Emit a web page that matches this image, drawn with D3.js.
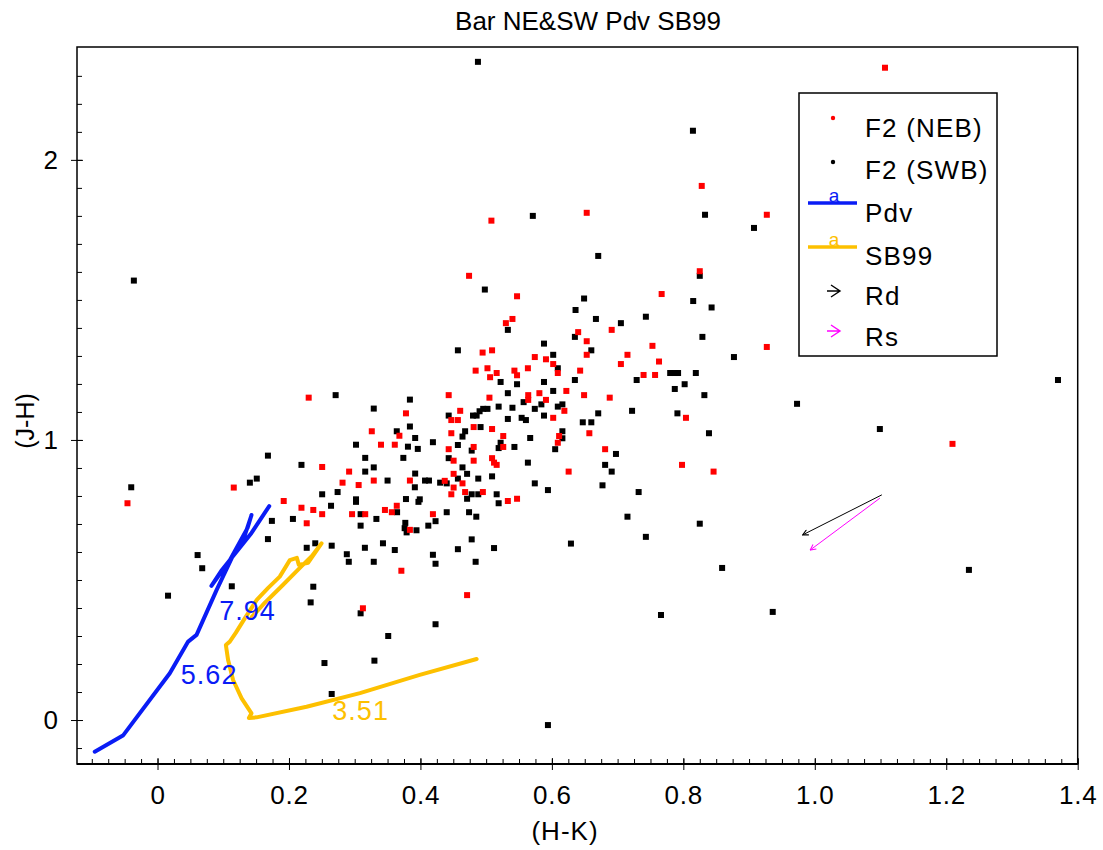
<!DOCTYPE html>
<html>
<head>
<meta charset="utf-8">
<script src="https://cdn.jsdelivr.net/npm/d3@7"></script>
<style>
  body { margin: 0; background: #fff; }
  text { font-family: "Liberation Sans", Arial, Helvetica, sans-serif; }
</style>
</head>
<body>
<div id="chart"></div>
<script>
var width = 1103, height = 850;

// (H-K, J-H) pairs
var f2SWB = [
  [0.6705,1.657],[0.498,1.537],[0.649,1.505],[0.636,1.464],[0.667,1.432],[0.705,1.417],[0.743,1.440],[0.815,1.496],[0.843,1.473],[0.825,1.586],
  [0.533,1.393],[0.635,1.368],[0.829,1.368],[0.877,1.296],[0.457,1.320],[0.588,1.344],[0.602,1.304],[0.660,1.320],[0.609,1.256],[0.522,1.207],
  [0.547,1.199],[0.588,1.207],[0.635,1.214],[0.729,1.214],[0.780,1.239],[0.787,1.239],[0.792,1.239],[0.819,1.239],[0.802,1.199],[0.787,1.182],
  [0.832,1.160],[0.533,1.167],[0.602,1.175],[0.557,1.135],[0.584,1.127],[0.574,1.111],[0.609,1.119],[0.616,1.127],[0.519,1.119],[0.540,1.115],
  [0.502,1.111],[0.4955,1.111],[0.490,1.1025],[0.4855,1.087],[0.480,1.087],[0.443,1.087],[0.533,1.075],[0.554,1.079],[0.5605,1.071],[0.588,1.087],
  [0.6705,1.095],[0.722,1.104],[0.647,1.063],[0.660,1.063],[0.791,1.095],[0.839,1.024],[0.4915,1.046],[0.468,1.031],[0.464,1.012],[0.457,0.982],
  [0.616,1.031],[0.616,1.006],[0.567,1.007],[0.522,0.990],[0.519,0.971],[0.543,0.975],[0.478,0.962],[0.605,0.967],[0.443,0.935],[0.6975,0.950],
  [0.5635,0.919],[0.681,0.911],[0.691,0.887],[0.464,0.902],[0.471,0.879],[0.457,0.862],[0.440,0.845],[0.488,0.862],[0.509,0.870],[0.574,0.845],
  [0.594,0.821],[0.677,0.838],[0.732,0.814],[0.478,0.806],[0.488,0.806],[0.471,0.790],[0.516,0.806],[0.519,0.774],[0.440,0.742],[0.474,0.742],
  [0.485,0.726],[0.715,0.726],[0.825,0.701],[0.478,0.645],[0.743,0.654],[0.512,0.614],[0.457,0.610],[0.629,0.630],
  [0.271,1.160],[0.384,1.144],[0.329,1.112],[0.384,1.048],[0.364,1.031],[0.392,1.007],[0.381,0.976],[0.396,0.968],[0.419,0.992],[0.302,0.983],
  [0.374,0.936],[0.316,0.936],[0.329,0.902],[0.316,0.887],[0.392,0.880],[0.168,0.944],[0.219,0.911],[0.151,0.862],[0.1405,0.8475],[0.407,0.855],
  [0.413,0.855],[0.430,0.8475],[0.350,0.855],[0.3915,0.831],[0.274,0.814],[0.2505,0.806],[0.302,0.788],[0.302,0.779],[0.264,0.765],[0.378,0.789],
  [0.399,0.788],[0.397,0.779],[0.3645,0.742],[0.309,0.735],[0.333,0.718],[0.377,0.704],[0.376,0.685],[0.379,0.670],[0.394,0.6775],[0.412,0.694],
  [0.423,0.710],[0.206,0.718],[0.174,0.711],[0.168,0.646],[0.240,0.631],[0.227,0.615],[0.265,0.6225],[0.3155,0.615],[0.343,0.631],[0.361,0.607],
  [0.288,0.592],[0.291,0.565],[0.329,0.565],[0.419,0.590],[0.423,0.558],[0.484,0.565],[0.113,0.4775],[0.237,0.476],
  [-0.040,0.831],[0.061,0.589],[0.068,0.542],[0.016,0.444],[0.233,0.420],[0.309,0.381],[0.423,0.342],[0.351,0.300],[0.330,0.212],[0.254,0.2035],
  [0.265,0.093],[0.309,0.694],[-0.036,1.569],
  [0.4875,2.350],[0.8146,2.104],[0.833,1.804],[0.571,1.800],[0.9075,1.757],[0.973,1.129],[1.099,1.039],[1.370,1.214],[1.2345,0.536],[0.936,0.386],
  [0.859,0.543],[0.766,0.375],[0.594,-0.018]
];

var f2NEB = [
  [0.508,1.783],[0.474,1.586],[0.547,1.513],[0.540,1.432],[0.530,1.417],[0.767,1.521],[0.825,1.6025],[0.640,1.385],[0.691,1.393],[0.653,1.3525],
  [0.653,1.304],[0.753,1.336],[0.715,1.304],[0.705,1.271],[0.763,1.280],[0.7395,1.232],[0.757,1.232],[0.4946,1.312],[0.509,1.320],[0.574,1.296],
  [0.591,1.288],[0.602,1.271],[0.5635,1.256],[0.484,1.2475],[0.502,1.256],[0.516,1.239],[0.506,1.224],[0.543,1.2475],[0.547,1.231],[0.609,1.239],
  [0.643,1.2475],[0.622,1.175],[0.581,1.167],[0.564,1.160],[0.564,1.143],[0.591,1.143],[0.649,1.160],[0.688,1.151],[0.505,1.151],[0.443,1.160],
  [0.4605,1.104],[0.447,1.071],[0.457,1.071],[0.619,1.104],[0.602,1.079],[0.804,1.079],[0.481,1.046],[0.509,1.039],[0.526,1.014],[0.447,1.024],
  [0.657,1.024],[0.611,1.014],[0.609,0.990],[0.443,0.967],[0.481,0.975],[0.526,0.975],[0.681,0.967],[0.4505,0.926],[0.481,0.926],[0.509,0.935],
  [0.512,0.919],[0.516,0.911],[0.4505,0.879],[0.464,0.845],[0.437,0.854],[0.4505,0.830],[0.447,0.806],[0.468,0.814],[0.495,0.814],[0.533,0.782],
  [0.547,0.790],[0.6255,0.887],[0.798,0.911],[0.846,0.887],
  [0.230,1.151],[0.378,1.095],[0.326,1.031],[0.340,0.983],[0.361,0.983],[0.368,1.015],[0.2505,0.9035],[0.2915,0.887],[0.2815,0.8475],[0.306,0.839],
  [0.329,0.855],[0.384,0.855],[0.116,0.830],[0.192,0.782],[0.219,0.758],[0.237,0.750],[0.2505,0.735],[0.227,0.7025],[0.296,0.735],[0.316,0.735],
  [0.346,0.750],[0.3565,0.742],[0.364,0.765],[0.419,0.735],[0.384,0.679],[0.371,0.533],[0.471,0.446],[0.3125,0.399],[-0.0457,0.774],
  [1.1068,2.329],[0.828,1.907],[0.927,1.804],[0.653,1.811],[0.927,1.332],[1.2095,0.986]
];

var pdvTrack = [
  [-0.0955,-0.113],[-0.052,-0.054],[0.0187,0.167],[0.0466,0.280],[0.0594,0.304],[0.0898,0.464],[0.1176,0.601],
  [0.133,0.661],[0.143,0.732],[0.137,0.686],[0.110,0.571],[0.082,0.479],[0.098,0.536],[0.143,0.668],[0.170,0.764]
];
var sb99Track = [
  [0.4855,0.218],[0.399,0.161],[0.308,0.096],[0.2268,0.0475],[0.1507,0.0096],[0.139,0.007],[0.143,0.024],[0.128,0.0775],
  [0.115,0.143],[0.1074,0.214],[0.104,0.268],[0.110,0.280],[0.119,0.311],[0.133,0.364],[0.151,0.429],[0.168,0.471],
  [0.186,0.512],[0.2013,0.571],[0.212,0.579],[0.215,0.554],[0.229,0.561],[0.2496,0.631],[0.235,0.586],[0.2166,0.543],
  [0.1907,0.482],[0.163,0.418],[0.1435,0.368]
];
// log(age) markers along the tracks
var ageLabels = [
  { text: "7.94", hk: 0.094, jh: 0.357, track: "pdv" },
  { text: "5.62", hk: 0.0355, jh: 0.129, track: "pdv" },
  { text: "3.51", hk: 0.266, jh: 0.0, track: "sb99" }
];
// reddening vectors: from -> to
var vectors = [
  { name: "Rd", from: [1.102, 0.804], to: [0.9815, 0.661] },
  { name: "Rs", from: [1.099, 0.792], to: [0.993, 0.607] }
];

var xTicks = [0, 0.2, 0.4, 0.6, 0.8, 1.0, 1.2, 1.4];
var yTicks = [0, 1, 2];

var colors = { neb: "#ff0000", swb: "#000000", pdv: "#0a1cf5", sb99: "#fdc000", Rd: "#000000", Rs: "#ff00ff" };

var plotL = 77, plotR = 1077.7, plotT = 47, plotB = 764;
var x = d3.scaleLinear().domain([-0.1225, 1.4]).range([plotL, plotR]);
var y = d3.scaleLinear().domain([-0.157, 2.403]).range([plotB, plotT]);

var svg = d3.select("#chart").append("svg")
    .attr("width", width)
    .attr("height", height);

var defs = svg.append("defs");
["Rd", "Rs"].forEach(function(k) {
  defs.append("marker")
    .attr("id", "arrow" + k)
    .attr("viewBox", "0 0 10 10")
    .attr("refX", 9).attr("refY", 5)
    .attr("markerWidth", 7).attr("markerHeight", 7)
    .attr("markerUnits", "userSpaceOnUse")
    .attr("orient", "auto")
    .append("path")
    .attr("d", "M1,1 L9,5 L1,9")
    .attr("fill", "none")
    .attr("stroke", colors[k])
    .attr("stroke-width", 1.5);
});

// minor ticks (inside)
var xMinor = d3.range(-0.1, 1.4001, 0.025);
var yMinor = d3.range(-0.1, 2.4, 0.1);

svg.append("g")
  .attr("transform", "translate(0," + plotB + ")")
  .call(d3.axisBottom(x).tickValues(xMinor).tickSize(-5).tickFormat(""))
  .call(function(g) { g.select(".domain").remove(); });
svg.append("g")
  .attr("transform", "translate(" + plotL + ",0)")
  .call(d3.axisLeft(y).tickValues(yMinor).tickSize(-5).tickFormat(""))
  .call(function(g) { g.select(".domain").remove(); });

// major ticks crossing the axis + labels
var xAxis = svg.append("g")
  .attr("transform", "translate(0," + plotB + ")")
  .call(d3.axisBottom(x).tickValues(xTicks).tickSize(6).tickPadding(16)
    .tickFormat(function(d) { return d === 0 ? "0" : d3.format(".1f")(d); }));
xAxis.selectAll(".tick").append("line").attr("y2", -6).attr("stroke", "#000");
xAxis.selectAll("text").attr("font-size", 26).attr("letter-spacing", 0.8)
  .attr("font-family", "Liberation Sans, Arial, sans-serif");
xAxis.select(".domain").remove();

var yAxis = svg.append("g")
  .attr("transform", "translate(" + plotL + ",0)")
  .call(d3.axisLeft(y).tickValues(yTicks).tickSize(6).tickPadding(13).tickFormat(d3.format("d")));
yAxis.selectAll(".tick").append("line").attr("x2", 6).attr("stroke", "#000");
yAxis.selectAll("text").attr("font-size", 26)
  .attr("font-family", "Liberation Sans, Arial, sans-serif");
yAxis.select(".domain").remove();

// frame
svg.append("rect")
  .attr("x", plotL).attr("y", plotT)
  .attr("width", plotR - plotL).attr("height", plotB - plotT)
  .attr("fill", "none").attr("stroke", "#000").attr("stroke-width", 1.5);
svg.append("line")
  .attr("x1", plotL).attr("x2", plotR).attr("y1", plotB).attr("y2", plotB)
  .attr("stroke", "#000").attr("stroke-width", 2.2);

// points
var sq = 6;
svg.append("g").selectAll("rect").data(f2SWB).enter().append("rect")
  .attr("x", function(d) { return x(d[0]) - sq/2; })
  .attr("y", function(d) { return y(d[1]) - sq/2; })
  .attr("width", sq).attr("height", sq)
  .attr("fill", colors.swb);
svg.append("g").selectAll("rect").data(f2NEB).enter().append("rect")
  .attr("x", function(d) { return x(d[0]) - sq/2; })
  .attr("y", function(d) { return y(d[1]) - sq/2; })
  .attr("width", sq).attr("height", sq)
  .attr("fill", colors.neb);

// tracks
var line = d3.line()
  .x(function(d) { return x(d[0]); })
  .y(function(d) { return y(d[1]); });
svg.append("path").datum(pdvTrack)
  .attr("d", line).attr("fill", "none")
  .attr("stroke", colors.pdv).attr("stroke-width", 4)
  .attr("stroke-linejoin", "round").attr("stroke-linecap", "round");
svg.append("path").datum(sb99Track)
  .attr("d", line).attr("fill", "none")
  .attr("stroke", colors.sb99).attr("stroke-width", 4)
  .attr("stroke-linejoin", "round").attr("stroke-linecap", "round");

svg.append("g").selectAll("text").data(ageLabels).enter().append("text")
  .attr("x", function(d) { return x(d.hk); })
  .attr("y", function(d) { return y(d.jh); })
  .attr("font-size", 27).attr("letter-spacing", 1)
  .attr("fill", function(d) { return colors[d.track]; })
  .text(function(d) { return d.text; });

// vectors
svg.append("g").selectAll("line").data(vectors).enter().append("line")
  .attr("x1", function(d) { return x(d.from[0]); })
  .attr("y1", function(d) { return y(d.from[1]); })
  .attr("x2", function(d) { return x(d.to[0]); })
  .attr("y2", function(d) { return y(d.to[1]); })
  .attr("stroke", function(d) { return colors[d.name]; })
  .attr("stroke-width", 1)
  .attr("marker-end", function(d) { return "url(#arrow" + d.name + ")"; });

// title and axis labels
svg.append("text").attr("x", 588).attr("y", 30).attr("text-anchor", "middle")
  .attr("font-size", 26).text("Bar NE&SW Pdv SB99");
svg.append("text").attr("x", 565).attr("y", 840).attr("text-anchor", "middle")
  .attr("font-size", 26).attr("letter-spacing", 1).text("(H-K)");
svg.append("text").attr("transform", "translate(34,421) rotate(-90)").attr("text-anchor", "middle")
  .attr("font-size", 25).text("(J-H)");

// legend
var legend = svg.append("g");
legend.append("rect")
  .attr("x", 799).attr("y", 93).attr("width", 198).attr("height", 263)
  .attr("fill", "#fff").attr("stroke", "#000").attr("stroke-width", 1.5);
var items = [
  { label: "F2 (NEB)", kind: "dot", color: colors.neb, ty: 137, my: 118 },
  { label: "F2 (SWB)", kind: "dot", color: colors.swb, ty: 179, my: 162 },
  { label: "Pdv", kind: "line", color: colors.pdv, ty: 222, my: 203 },
  { label: "SB99", kind: "line", color: colors.sb99, ty: 265, my: 247 },
  { label: "Rd", kind: "arrow", color: colors.Rd, ty: 305, my: 291 },
  { label: "Rs", kind: "arrow", color: colors.Rs, ty: 346, my: 331 }
];
items.forEach(function(it) {
  if (it.kind === "dot") {
    legend.append("circle").attr("cx", 833).attr("cy", it.my).attr("r", 2.2).attr("fill", it.color);
  } else if (it.kind === "line") {
    legend.append("line").attr("x1", 808).attr("x2", 857).attr("y1", it.my).attr("y2", it.my)
      .attr("stroke", it.color).attr("stroke-width", 3.5);
    legend.append("text").attr("x", 834).attr("y", it.my - 1).attr("text-anchor", "middle")
      .attr("font-size", 19).attr("fill", it.color).text("a");
  } else {
    legend.append("path")
      .attr("d", "M831," + (it.my - 6) + " L840," + it.my + " L831," + (it.my + 6) + " M827," + it.my + " L840," + it.my)
      .attr("fill", "none").attr("stroke", it.color).attr("stroke-width", 1.4);
  }
  legend.append("text").attr("x", 865).attr("y", it.ty)
    .attr("font-size", 26).attr("letter-spacing", 1.2).text(it.label);
});
</script>
</body>
</html>
